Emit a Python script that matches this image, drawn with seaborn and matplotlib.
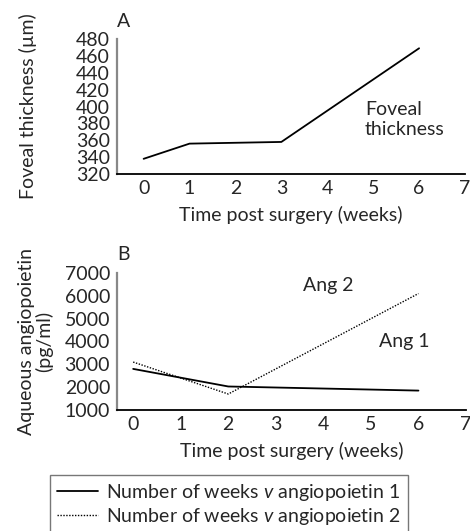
import matplotlib
matplotlib.use("Agg")
import matplotlib.pyplot as plt
import seaborn as sns
import pandas as pd
from matplotlib.lines import Line2D

# ---- data ----
weeks_a = [0, 1, 3, 6]
foveal_thickness = [338, 356, 358, 469]

weeks_b = [0, 2, 6]
ang1 = [2800, 2030, 1850]
ang2 = [3100, 1700, 6100]

x_ticks = [0, 1, 2, 3, 4, 5, 6, 7]
y_ticks_a = [320, 340, 360, 380, 400, 420, 440, 460, 480]
y_ticks_b = [1000, 2000, 3000, 4000, 5000, 6000, 7000]

legend_labels = ["Number of weeks $\\mathit{v}$ angiopoietin 1",
                 "Number of weeks $\\mathit{v}$ angiopoietin 2"]

sns.set_style("white")
plt.rcParams["font.family"] = ["Lato", "DejaVu Sans"]
plt.rcParams["mathtext.fontset"] = "custom"
plt.rcParams["mathtext.it"] = "Lato:italic"
plt.rcParams["mathtext.rm"] = "Lato"
FS = 14

W, H = 470, 531
fig = plt.figure(figsize=(W / 100, H / 100), dpi=100)

def fr(x0, y_top, x1, y_bot):
    return [x0 / W, 1 - y_bot / H, (x1 - x0) / W, (y_bot - y_top) / H]

axA = fig.add_axes(fr(117, 39, 465, 174))
axB = fig.add_axes(fr(117, 273, 466, 410))

dfA = pd.DataFrame({"week": weeks_a, "thickness": foveal_thickness})
sns.lineplot(data=dfA, x="week", y="thickness", ax=axA, color="black", lw=1.3)

dfB = pd.DataFrame({"week": weeks_b, "ang1": ang1, "ang2": ang2})
sns.lineplot(data=dfB, x="week", y="ang1", ax=axB, color="black", lw=1.3)
sns.lineplot(data=dfB, x="week", y="ang2", ax=axB, color="black", lw=1.0, ls=(0, (1, 1.1)))

def style(ax, xmin, ylim, yticks):
    ax.set_xlim(xmin, 7)
    ax.set_ylim(*ylim)
    ax.set_xticks(x_ticks)
    ax.set_yticks(yticks)
    for s in ["top", "right"]:
        ax.spines[s].set_visible(False)
    ax.spines["left"].set_color("#888888")
    ax.spines["left"].set_linewidth(1.6)
    ax.spines["bottom"].set_color("black")
    ax.spines["bottom"].set_linewidth(1.3)
    ax.tick_params(axis="x", direction="in", length=8, width=1.0, pad=4,
                   labelsize=FS, color="#333333")
    ax.tick_params(axis="y", direction="in", length=10, width=1.0, pad=5,
                   labelsize=FS, color="#333333")
    ax.set_xlabel("Time post surgery (weeks)", fontsize=FS, labelpad=7)

style(axA, -0.58, (320, 480), y_ticks_a)
style(axB, -0.34, (1000, 7000), y_ticks_b)

axA.set_ylabel("Foveal thickness (µm)", fontsize=FS)
axA.yaxis.set_label_coords(-0.23, 0.5)
axB.set_ylabel("Aqueous angiopoietin\n(pg/ml)", fontsize=FS, linespacing=1.0)
axB.yaxis.set_label_coords(-0.183, 0.5)

axA.text(0.0, 1.088, "A", transform=axA.transAxes, fontsize=FS, va="baseline", ha="left")
axB.text(0.0, 1.097, "B", transform=axB.transAxes, fontsize=FS, va="baseline", ha="left")

axA.text(4.82, 366, "Foveal\nthickness", fontsize=FS, va="baseline", ha="left")
axB.text(3.58, 6212, "Ang 2", fontsize=FS, va="baseline", ha="left")
axB.text(5.16, 3760, "Ang 1", fontsize=FS, va="baseline", ha="left")

handles = [Line2D([], [], color="black", lw=1.3),
           Line2D([], [], color="black", lw=1.0, ls=(0, (1, 1.1)))]
leg = fig.legend(handles, legend_labels, loc="upper left",
                 bbox_to_anchor=(50 / W, 1 - 475 / H), fontsize=FS,
                 frameon=True, fancybox=False, borderpad=0.35,
                 labelspacing=0.15, handlelength=2.1, handletextpad=0.45,
                 borderaxespad=0)
leg.get_frame().set_edgecolor("#555555")
leg.get_frame().set_linewidth(1.0)

fig.savefig("out.png", dpi=100)
